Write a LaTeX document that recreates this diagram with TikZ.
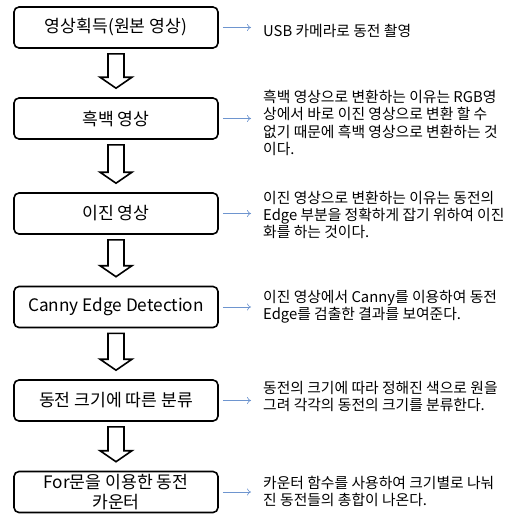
\documentclass[tikz,border=0pt]{standalone}
\usepackage{fontspec}
\setmainfont{Noto Sans CJK KR}
\usetikzlibrary{calc,arrows.meta}
\definecolor{linkblue}{HTML}{6E95CF}
\tikzset{
  stepbox/.style={draw, line width=1.6pt, rounded corners=5pt, minimum width=204pt, minimum height=41pt, inner sep=0pt, align=center, font=\fontsize{17.2}{20.5}\selectfont},
  desc/.style={anchor=west, inner sep=0pt, align=left, font=\fontsize{14.8}{17.4}\selectfont},
  link/.style={draw=linkblue, line width=0.6pt, -{To[length=4pt,width=7pt]}, shorten <=4pt, shorten >=12pt},
  blockarr/.style={draw, line width=1.6pt, fill=white, line join=miter}
}
\newcommand\blockarrow[2]{%
  \draw[blockarr] ([xshift=-8pt,yshift=-5pt]#1.south) -- ([xshift=8pt,yshift=-5pt]#1.south)
    -- ([xshift=8pt,yshift=20pt]#2.north) -- ([xshift=16pt,yshift=20pt]#2.north)
    -- ([yshift=9pt]#2.north) -- ([xshift=-16pt,yshift=20pt]#2.north)
    -- ([xshift=-8pt,yshift=20pt]#2.north) -- cycle;}
\begin{document}
\begin{tikzpicture}[x=1pt,y=-1pt]
\useasboundingbox (0,0) rectangle (524,514);
\node[stepbox] (b1) at (116,27.5) {영상획득(원본 영상)};
\node[stepbox] (b2) at (116,118.5) {흑백 영상};
\node[stepbox] (b3) at (116,213.5) {이진 영상};
\node[stepbox] (b4) at (116,307) {Canny Edge Detection};
\node[stepbox] (b5) at (116,400.5) {동전 크기에 따른 분류};
\node[stepbox] (b6) at (116,492) {For문을 이용한 동전\\카운터};

\blockarrow{b1}{b2}
\blockarrow{b2}{b3}
\blockarrow{b3}{b4}
\blockarrow{b4}{b5}
\blockarrow{b5}{b6}

\node[desc] (t1) at (263,31) {USB 카메라로 동전 촬영};
\node[desc] (t2) at (263,123) {흑백 영상으로 변환하는 이유는 RGB영\\상에서 바로 이진 영상으로 변환 할 수\\없기 때문에 흑백 영상으로 변환하는 것\\이다.};
\node[desc] (t3) at (263,215) {이진 영상으로 변환하는 이유는 동전의\\Edge 부분을 정확하게 잡기 위하여 이진\\화를 하는 것이다.};
\node[desc] (t4) at (263,306.5) {이진 영상에서 Canny를 이용하여 동전\\Edge를 검출한 결과를 보여준다.};
\node[desc] (t5) at (263,396.5) {동전의 크기에 따라 정해진 색으로 원을\\그려 각각의 동전의 크기를 분류한다.};
\node[desc] (t6) at (263,491.5) {카운터 함수를 사용하여 크기별로 나눠\\진 동전들의 총합이 나온다.};

\draw[link] (b1.east) -- (b1.east -| t1.west);
\draw[link] (b2.east) -- (b2.east -| t2.west);
\draw[link] (b3.east) -- (b3.east -| t3.west);
\draw[link] (b4.east) -- (b4.east -| t4.west);
\draw[link] (b5.east) -- (b5.east -| t5.west);
\draw[link] (b6.east) -- (b6.east -| t6.west);
\end{tikzpicture}
\end{document}
